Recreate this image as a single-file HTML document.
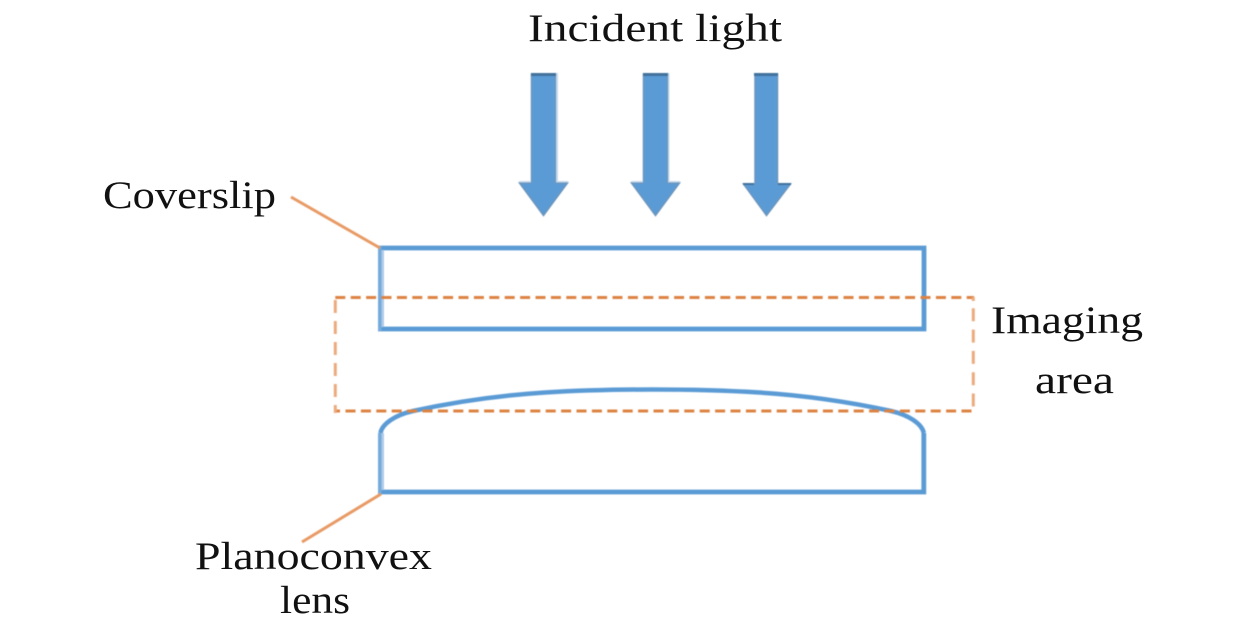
<!DOCTYPE html>
<html><head><meta charset="utf-8"><style>html,body{margin:0;padding:0;background:#fff}svg{display:block}text{font-family:"Liberation Serif",serif;font-size:39px;fill:#111}.b{filter:blur(.45px)}</style></head>
<body><svg width="1260" height="630" viewBox="0 0 1260 630" xmlns="http://www.w3.org/2000/svg">
<rect width="1260" height="630" fill="#fff"/>
<g class="b">
<g fill="#5b9bd5" stroke="#6c95bd" stroke-width="1.500">
<path d="M531.500 74H555.500V183H567.500L543.500 215.500L519.500 183H531.500Z"/>
<path d="M643.500 74H667.500V183H679.500L655.500 215.500L631.500 183H643.500Z"/>
<path d="M755 74H777.500V184H790.500L766.500 215.500L743.500 184H755Z"/>
</g>
<g fill="#41719c"><rect x="531" y="73" width="25" height="3"/><rect x="643" y="73" width="25" height="3"/><rect x="754" y="73" width="24" height="3"/><rect x="743" y="183" width="11" height="2"/><rect x="778" y="183" width="13" height="2"/></g>
<g fill="#c5d9ec"><rect x="556" y="73" width="2" height="109"/><rect x="668" y="73" width="1.500" height="109"/><rect x="519" y="181" width="12" height="1.500"/><rect x="556" y="181" width="12" height="1.500"/><rect x="631" y="181" width="12" height="1.500"/><rect x="668" y="181" width="12" height="1.500"/></g>
<g fill="none" stroke="#5b9bd5" stroke-width="4.800">
<path d="M378 248H924V329H378"/>
<path d="M923.800 433V492H378"/>
<path d="M380.500 433C382 424 395 415 413 411C445 404 490 396 545 392.500C585 390 620 389.500 652 389.500C684 389.500 719 390 759 392.500C814 396 859 404 891 411C909 415 922 424 923.800 433" stroke-width="4.500"/>
</g>
<g fill="#76aadb"><rect x="378" y="246" width="3.500" height="85"/><rect x="378" y="433" width="3.500" height="61"/></g>
<g fill="#aecbe8"><rect x="381.500" y="250" width="2.500" height="77"/><rect x="381.500" y="433" width="2.500" height="57"/></g>
<g fill="none" stroke="#e89a64" stroke-width="3">
<path d="M291 197L380 248"/><path d="M302 542L381 494"/>
</g>
<g fill="none" stroke="#dd8343" stroke-width="3">
<path d="M335.300 297.500H974" stroke-dasharray="10 5.400"/>
<path d="M345.500 411H972" stroke-dasharray="10 5.400"/>
<path d="M335.300 411H340"/>
</g>
<g fill="none" stroke="#ecab7e" stroke-width="3">
<path d="M335.300 300V413" stroke-dasharray="13 8"/>
<path d="M973.300 308.300V407" stroke-dasharray="13 8.300"/>
<path d="M973.300 297V301"/>
</g>
</g>
<text x="528" y="41" textLength="254" lengthAdjust="spacingAndGlyphs">Incident light</text>
<text x="103" y="208" textLength="173" lengthAdjust="spacingAndGlyphs">Coverslip</text>
<text x="991" y="333" textLength="152" lengthAdjust="spacingAndGlyphs">Imaging</text>
<text x="1035" y="393" textLength="79" lengthAdjust="spacingAndGlyphs">area</text>
<text x="195" y="569" textLength="237" lengthAdjust="spacingAndGlyphs">Planoconvex</text>
<text x="280" y="613" textLength="70" lengthAdjust="spacingAndGlyphs">lens</text>
</svg></body></html>
